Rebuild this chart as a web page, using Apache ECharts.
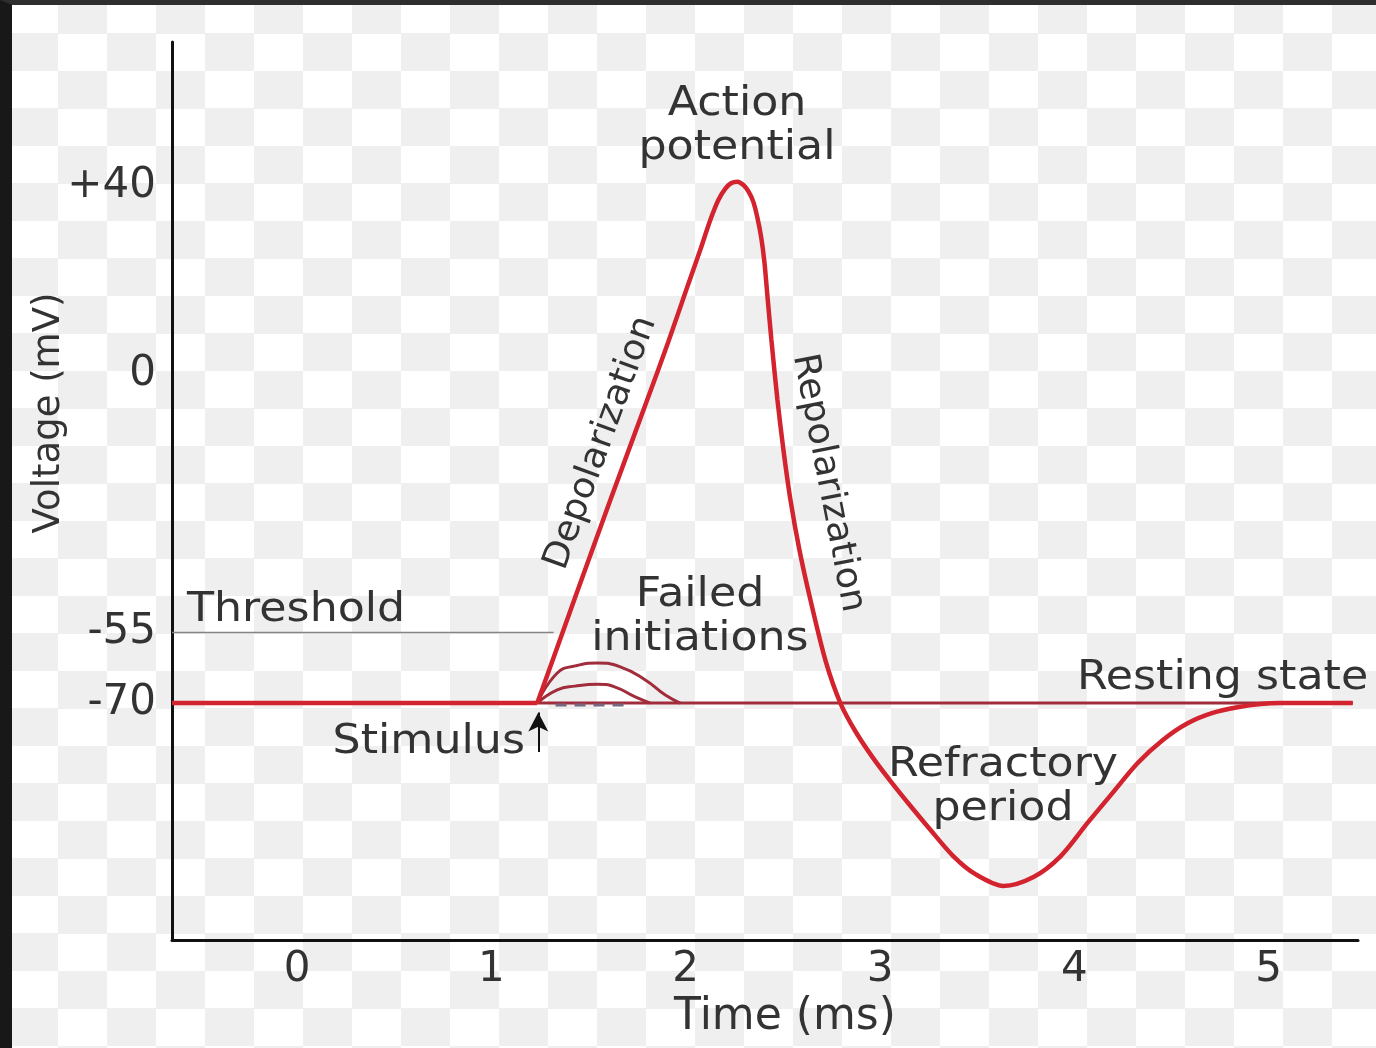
<!DOCTYPE html>
<html>
<head>
<meta charset="utf-8">
<title>Action potential</title>
<script src="https://cdn.jsdelivr.net/npm/echarts@6/dist/echarts.min.js"></script>
<style>
  html, body {
    margin: 0;
    width: 1376px;
    height: 1048px;
    overflow: hidden;
    background: repeating-conic-gradient(#ffffff 0 25%, #efefef 0 50%) -40px -4px / 98px 75px;
  }
  #chart {
    position: absolute;
    left: 0;
    top: 0;
    width: 1376px;
    height: 1048px;
  }
  #frame {
    position: absolute;
    left: 0;
    top: 0;
    width: 1376px;
    height: 1048px;
    box-sizing: border-box;
    border-top: 5px solid #2e2e2e;
    border-left: 12px solid #181818;
    pointer-events: none;
  }
</style>
</head>
<body>
<div id="chart"></div>
<div id="frame"></div>
<script>
// axis ticks
const timeTicks = [0, 1, 2, 3, 4, 5];
const voltageTicks = [-70, -55, 0, 40];

// levels (mV) and times (ms)
const restingV = -70;
const thresholdV = -55;
const stimulusT = 1.236;
const startT = -0.644;
const endT = 5.433;

// the action potential, from the stimulus on
const spikeT = [1.236, 1.426, 1.612, 1.802, 1.91, 2.003, 2.075, 2.127, 2.168, 2.204, 2.235, 2.266, 2.297, 2.322, 2.348, 2.369, 2.389, 2.405, 2.42, 2.441, 2.472, 2.503, 2.539, 2.585, 2.642, 2.719, 2.796, 2.873, 2.961, 3.054, 3.157, 3.26, 3.378, 3.491, 3.635, 3.79, 3.929, 4.068, 4.197, 4.325, 4.454, 4.583, 4.712, 4.84, 4.959, 5.062, 5.433];
const spikeV = [-70, -48.1, -26.8, -5.5, 6.8, 17.9, 26.4, 32.8, 37.0, 39.4, 40.6, 40.9, 40.2, 38.9, 36.6, 33.2, 28.9, 23.8, 16.8, 7.2, -5.5, -16.2, -26.8, -37.4, -48.1, -60.9, -70, -76.0, -81.5, -86.6, -91.9, -97.0, -102.6, -106.4, -108.9, -107.0, -102.6, -95.5, -89.1, -82.8, -77.9, -74.3, -72.1, -70.9, -70.2, -70, -70];

// failed initiations
const failedHighT = [1.236, 1.339, 1.431, 1.545, 1.663, 1.792, 1.895, 1.972];
const failedHighV = [-70, -63.6, -62.1, -61.5, -62.3, -65.1, -68.3, -70];
const failedLowT = [1.236, 1.339, 1.431, 1.545, 1.637, 1.74, 1.818];
const failedLowV = [-70, -67.2, -66.4, -66.0, -66.6, -68.7, -70];
const failedFlatT = [1.33, 1.69];
const failedFlatV = [-70.4, -70.4];

// threshold line runs until it meets the rise
const thresholdEndT = 1.32;
// stimulus arrow, tail to head
const arrowV = [-80.4, -72];

const zip = (ts, vs) => ts.map((t, i) => [t, vs[i]]);

const FONT = '"DejaVu Sans", Verdana, sans-serif';
const TEXT = '#333333';
const RED = '#d2232e';
const DARK_RED = '#a12d3c';

// annotation text; the source lettering is a little wider than it is tall
function label(text, x, y, o) {
  o = o || {};
  return {
    type: 'text',
    x: x,
    y: y,
    silent: true,
    rotation: o.rotation || 0,
    scaleX: o.scaleX || 1.08,
    style: {
      text: text,
      fill: TEXT,
      font: (o.size || 41) + 'px ' + FONT,
      align: o.align || 'center',
      verticalAlign: 'middle',
      lineHeight: 44
    }
  };
}

const chart = echarts.init(document.getElementById('chart'));

const option = {
  animation: false,
  backgroundColor: 'transparent',
  textStyle: { fontFamily: FONT },
  grid: { left: 172, right: 18, top: 42, bottom: 108 },
  xAxis: {
    type: 'value',
    min: startT,
    max: 5.46,
    name: 'Time (ms)',
    nameLocation: 'middle',
    nameGap: 52,
    nameTextStyle: { fontSize: 44, color: TEXT, fontFamily: FONT, padding: [0, 0, 0, 40] },
    axisLine: { onZero: false, lineStyle: { color: '#111', width: 3 } },
    axisTick: { show: false },
    splitLine: { show: false },
    axisLabel: {
      customValues: timeTicks,
      fontSize: 42,
      color: TEXT,
      fontFamily: FONT,
      margin: 9
    }
  },
  yAxis: {
    type: 'value',
    min: -120.4,
    max: 70.6,
    name: 'Voltage (mV)',
    nameLocation: 'middle',
    nameGap: 104,
    nameMoveOverlap: false,
    nameTextStyle: { fontSize: 37, color: TEXT, fontFamily: FONT, padding: [0, 0, 0, 156] },
    axisLine: { onZero: false, lineStyle: { color: '#111', width: 3 } },
    axisTick: { show: false },
    splitLine: { show: false },
    axisLabel: {
      customValues: voltageTicks,
      fontSize: 42,
      color: TEXT,
      fontFamily: FONT,
      margin: 16,
      formatter: v => (v > 0 ? '+' + v : String(v))
    }
  },
  series: [
    {
      name: 'Threshold',
      type: 'line',
      symbol: 'none',
      silent: true,
      lineStyle: { color: '#858585', width: 1.5 },
      data: [[startT, thresholdV], [thresholdEndT, thresholdV]],
      markLine: {
        silent: true,
        symbol: ['none', 'arrow'],
        symbolSize: [15, 19],
        label: { show: false },
        lineStyle: { color: '#111', width: 2, type: 'solid' },
        data: [[{ coord: [stimulusT + 0.005, arrowV[0]] }, { coord: [stimulusT + 0.005, arrowV[1]] }]]
      }
    },
    {
      name: 'Resting state',
      type: 'line',
      symbol: 'none',
      silent: true,
      lineStyle: { color: DARK_RED, width: 3 },
      data: [[stimulusT, restingV], [endT, restingV]]
    },
    {
      name: 'Failed flat',
      type: 'line',
      symbol: 'none',
      silent: true,
      lineStyle: { color: '#76687f', width: 3, type: [11, 8] },
      data: zip(failedFlatT, failedFlatV)
    },
    {
      name: 'Failed high',
      type: 'line',
      symbol: 'none',
      silent: true,
      smooth: 0.5,
      lineStyle: { color: DARK_RED, width: 3 },
      data: zip(failedHighT, failedHighV)
    },
    {
      name: 'Failed low',
      type: 'line',
      symbol: 'none',
      silent: true,
      smooth: 0.5,
      lineStyle: { color: DARK_RED, width: 3 },
      data: zip(failedLowT, failedLowV)
    },
    {
      name: 'Resting before stimulus',
      type: 'line',
      symbol: 'none',
      silent: true,
      lineStyle: { color: RED, width: 4.5 },
      data: [[startT, restingV], [stimulusT, restingV]]
    },
    {
      name: 'Action potential',
      type: 'line',
      symbol: 'none',
      silent: true,
      smooth: 0.3,
      lineStyle: { color: RED, width: 4.5 },
      data: zip(spikeT, spikeV)
    }
  ],
  graphic: [
    label('Action\npotential', 737, 126),
    label('Failed\ninitiations', 700, 617),
    label('Refractory\nperiod', 1003, 787),
    label('Resting state', 1077, 678, { align: 'left' }),
    label('Threshold', 187, 610, { align: 'left' }),
    label('Stimulus', 525, 742, { align: 'right' }),
    label('Depolarization', 601, 443, { rotation: 70 * Math.PI / 180, size: 36, scaleX: 1.02 }),
    label('Repolarization', 828, 483, { rotation: -79 * Math.PI / 180, size: 36, scaleX: 1.02 })
  ]
};

chart.setOption(option);
</script>
</body>
</html>
